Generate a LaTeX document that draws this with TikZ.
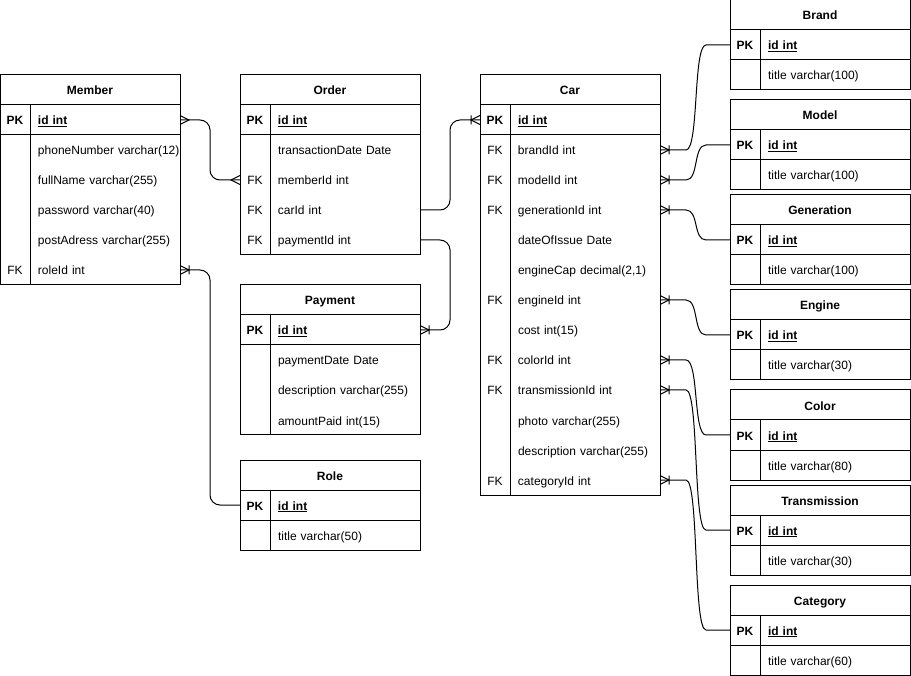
\documentclass[tikz,border=0pt]{standalone}
\usepackage{fontspec}
\setmainfont{Liberation Sans}
\usepackage{tikz}
\usetikzlibrary{arrows.meta,positioning}

% crow's foot ends for the relations
\pgfdeclarearrow{
  name = Crow,
  setup code = {
    \pgfarrowssettipend{0pt}
    \pgfarrowssetlineend{0pt}
    \pgfarrowssetbackend{-9pt}
    \pgfarrowssetvisualbackend{-9pt}
    \pgfarrowshullpoint{0pt}{4.5pt}
    \pgfarrowshullpoint{0pt}{-4.5pt}
    \pgfarrowshullpoint{-9pt}{0pt}
  },
  drawing code = {
    \pgfsetdash{}{0pt}
    \pgfpathmoveto{\pgfqpoint{0pt}{4.5pt}}
    \pgfpathlineto{\pgfqpoint{-9pt}{0pt}}
    \pgfpathlineto{\pgfqpoint{0pt}{-4.5pt}}
    \pgfusepathqstroke
  }
}
\pgfdeclarearrow{
  name = CrowBar,
  setup code = {
    \pgfarrowssettipend{0pt}
    \pgfarrowssetlineend{0pt}
    \pgfarrowssetbackend{-9pt}
    \pgfarrowssetvisualbackend{-9pt}
    \pgfarrowshullpoint{0pt}{4.5pt}
    \pgfarrowshullpoint{0pt}{-4.5pt}
    \pgfarrowshullpoint{-9pt}{4.5pt}
    \pgfarrowshullpoint{-9pt}{-4.5pt}
  },
  drawing code = {
    \pgfsetdash{}{0pt}
    \pgfpathmoveto{\pgfqpoint{0pt}{4.5pt}}
    \pgfpathlineto{\pgfqpoint{-9pt}{0pt}}
    \pgfpathlineto{\pgfqpoint{0pt}{-4.5pt}}
    \pgfpathmoveto{\pgfqpoint{-9pt}{4.5pt}}
    \pgfpathlineto{\pgfqpoint{-9pt}{-4.5pt}}
    \pgfusepathqstroke
  }
}

\newcommand{\keycol}[1]{\makebox[30pt]{#1}\hspace{8pt}}

\begin{document}
\begin{tikzpicture}[
  x=1pt, y=-1pt,
  node distance=0pt,
  head/.style={inner sep=0pt, outer sep=0pt, minimum height=30pt, text width=180pt,
               text height=10.5pt, text depth=0.5pt,
               align=center, font=\fontsize{12}{14}\selectfont\bfseries},
  row/.style={inner sep=0pt, outer sep=0pt, minimum height=30pt, text width=180pt,
              text height=10.5pt, text depth=0.5pt,
              align=left, font=\fontsize{12}{14}\selectfont},
  frame/.style={draw=black, line width=1pt},
  link/.style={draw=black, line width=1pt, rounded corners=10pt},
  curvelink/.style={draw=black, line width=1pt}
]
\useasboundingbox (0,0) rectangle (911,676);

% Member
\node[head, anchor=north west] (member) at (0,75) {Member};
\node[row, below=of member] (member-id) {\keycol{\textbf{PK}}\textbf{\underline{id int}}};
\node[row, below=of member-id] (member-phonenumber) {\keycol{}phoneNumber varchar(12)};
\node[row, below=of member-phonenumber] (member-fullname) {\keycol{}fullName varchar(255)};
\node[row, below=of member-fullname] (member-password) {\keycol{}password varchar(40)};
\node[row, below=of member-password] (member-postadress) {\keycol{}postAdress varchar(255)};
\node[row, below=of member-postadress] (member-roleid) {\keycol{FK}roleId int};

% Order
\node[head, anchor=north west] (order) at (240,75) {Order};
\node[row, below=of order] (order-id) {\keycol{\textbf{PK}}\textbf{\underline{id int}}};
\node[row, below=of order-id] (order-transactiondate) {\keycol{}transactionDate Date};
\node[row, below=of order-transactiondate] (order-memberid) {\keycol{FK}memberId int};
\node[row, below=of order-memberid] (order-carid) {\keycol{FK}carId int};
\node[row, below=of order-carid] (order-paymentid) {\keycol{FK}paymentId int};

% Payment
\node[head, anchor=north west] (payment) at (240,285) {Payment};
\node[row, below=of payment] (payment-id) {\keycol{\textbf{PK}}\textbf{\underline{id int}}};
\node[row, below=of payment-id] (payment-paymentdate) {\keycol{}paymentDate Date};
\node[row, below=of payment-paymentdate] (payment-description) {\keycol{}description varchar(255)};
\node[row, below=of payment-description] (payment-amountpaid) {\keycol{}amountPaid int(15)};

% Role
\node[head, anchor=north west] (role) at (240,460) {Role};
\node[row, below=of role] (role-id) {\keycol{\textbf{PK}}\textbf{\underline{id int}}};
\node[row, below=of role-id] (role-title) {\keycol{}title varchar(50)};

% Car
\node[head, anchor=north west] (car) at (480,75) {Car};
\node[row, below=of car] (car-id) {\keycol{\textbf{PK}}\textbf{\underline{id int}}};
\node[row, below=of car-id] (car-brandid) {\keycol{FK}brandId int};
\node[row, below=of car-brandid] (car-modelid) {\keycol{FK}modelId int};
\node[row, below=of car-modelid] (car-generationid) {\keycol{FK}generationId int};
\node[row, below=of car-generationid] (car-dateofissue) {\keycol{}dateOfIssue Date};
\node[row, below=of car-dateofissue] (car-enginecap) {\keycol{}engineCap decimal(2,1)};
\node[row, below=of car-enginecap] (car-engineid) {\keycol{FK}engineId int};
\node[row, below=of car-engineid] (car-cost) {\keycol{}cost int(15)};
\node[row, below=of car-cost] (car-colorid) {\keycol{FK}colorId int};
\node[row, below=of car-colorid] (car-transmissionid) {\keycol{FK}transmissionId int};
\node[row, below=of car-transmissionid] (car-photo) {\keycol{}photo varchar(255)};
\node[row, below=of car-photo] (car-description) {\keycol{}description varchar(255)};
\node[row, below=of car-description] (car-categoryid) {\keycol{FK}categoryId int};

% lookup tables
\node[head, anchor=north west] (brand) at (730,0) {Brand};
\node[row, below=of brand] (brand-id) {\keycol{\textbf{PK}}\textbf{\underline{id int}}};
\node[row, below=of brand-id] (brand-title) {\keycol{}title varchar(100)};

\node[head, anchor=north west] (model) at (730,100) {Model};
\node[row, below=of model] (model-id) {\keycol{\textbf{PK}}\textbf{\underline{id int}}};
\node[row, below=of model-id] (model-title) {\keycol{}title varchar(100)};

\node[head, anchor=north west] (generation) at (730,195) {Generation};
\node[row, below=of generation] (generation-id) {\keycol{\textbf{PK}}\textbf{\underline{id int}}};
\node[row, below=of generation-id] (generation-title) {\keycol{}title varchar(100)};

\node[head, anchor=north west] (engine) at (730,290) {Engine};
\node[row, below=of engine] (engine-id) {\keycol{\textbf{PK}}\textbf{\underline{id int}}};
\node[row, below=of engine-id] (engine-title) {\keycol{}title varchar(30)};

\node[head, anchor=north west] (color) at (730,390) {Color};
\node[row, below=of color] (color-id) {\keycol{\textbf{PK}}\textbf{\underline{id int}}};
\node[row, below=of color-id] (color-title) {\keycol{}title varchar(80)};

\node[head, anchor=north west] (transmission) at (730,485) {Transmission};
\node[row, below=of transmission] (transmission-id) {\keycol{\textbf{PK}}\textbf{\underline{id int}}};
\node[row, below=of transmission-id] (transmission-title) {\keycol{}title varchar(30)};

\node[head, anchor=north west] (category) at (730,585) {Category};
\node[row, below=of category] (category-id) {\keycol{\textbf{PK}}\textbf{\underline{id int}}};
\node[row, below=of category-id] (category-title) {\keycol{}title varchar(60)};

% table frames
\foreach \t/\last in {member/member-roleid, order/order-paymentid, payment/payment-amountpaid,
    role/role-title, car/car-categoryid, brand/brand-title, model/model-title,
    generation/generation-title, engine/engine-title, color/color-title,
    transmission/transmission-title, category/category-title} {
  \draw[frame] (\t.north west) rectangle (\last.south east);
  \draw[frame] (\t-id.north west) rectangle (\t-id.south east);
  \draw[frame] ([xshift=30pt]\t-id.north west) -- ([xshift=30pt]\last.south west);
}

% relations
\draw[link, Crow-Crow] (member-id.east) -- ++(30,0) |- (order-memberid.west);
\draw[link, -CrowBar] (order-carid.east) -- ++(30,0) |- (car-id.west);
\draw[link, -CrowBar] (order-paymentid.east) -- ++(30,0) |- (payment-id.east);
\draw[link, CrowBar-] (member-roleid.east) -- ++(30,0) |- (role-id.west);

\draw[curvelink, CrowBar-] (car-brandid.east) -- ++(26,0) .. controls +(13,0) and +(-13,0) .. ([xshift=-24pt]brand-id.west) -- (brand-id.west);
\draw[curvelink, CrowBar-] (car-modelid.east) -- ++(26,0) .. controls +(13,0) and +(-13,0) .. ([xshift=-24pt]model-id.west) -- (model-id.west);
\draw[curvelink, CrowBar-] (car-generationid.east) -- ++(26,0) .. controls +(13,0) and +(-13,0) .. ([xshift=-24pt]generation-id.west) -- (generation-id.west);
\draw[curvelink, CrowBar-] (car-engineid.east) -- ++(26,0) .. controls +(13,0) and +(-13,0) .. ([xshift=-24pt]engine-id.west) -- (engine-id.west);
\draw[curvelink, CrowBar-] (car-colorid.east) -- ++(26,0) .. controls +(13,0) and +(-13,0) .. ([xshift=-24pt]color-id.west) -- (color-id.west);
\draw[curvelink, CrowBar-] (car-transmissionid.east) -- ++(26,0) .. controls +(13,0) and +(-13,0) .. ([xshift=-24pt]transmission-id.west) -- (transmission-id.west);
\draw[curvelink, CrowBar-] (car-categoryid.east) -- ++(26,0) .. controls +(13,0) and +(-13,0) .. ([xshift=-24pt]category-id.west) -- (category-id.west);
\end{tikzpicture}
\end{document}
